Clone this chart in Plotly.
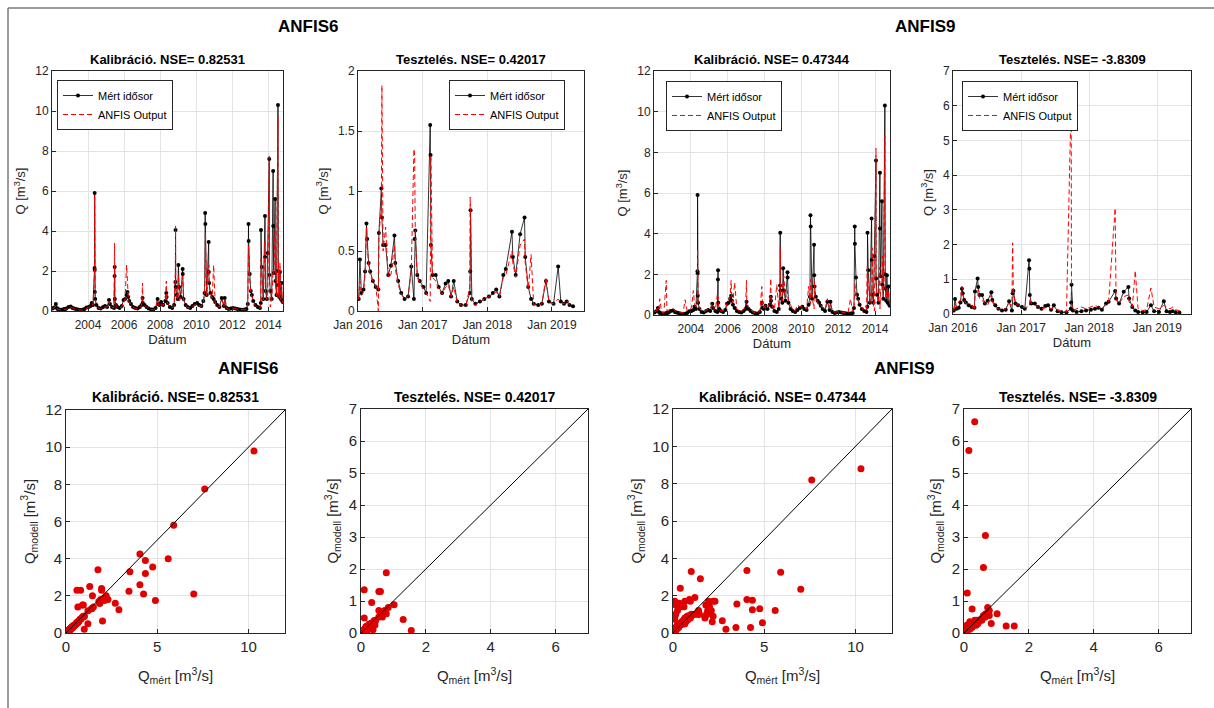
import plotly.graph_objects as go

# ---------------- DATA ----------------
cal_dates = [
    "2002-01-10", "2002-02-15", "2002-03-20", "2002-04-10", "2002-04-25", "2002-06-01", "2002-07-15", "2002-09-01", "2002-09-15", "2002-10-20", "2002-12-01",
    "2003-01-15", "2003-02-20", "2003-03-25", "2003-05-01", "2003-06-15", "2003-08-01", "2003-09-10", "2003-10-20", "2003-12-01",
    "2004-01-15", "2004-02-20", "2004-03-15", "2004-04-10", "2004-05-12", "2004-05-14", "2004-05-16", "2004-05-18", "2004-05-25", "2004-06-20", "2004-08-01", "2004-09-15", "2004-11-01", "2004-12-10",
    "2005-01-20", "2005-03-01", "2005-03-20", "2005-05-01", "2005-06-10", "2005-06-22", "2005-06-24", "2005-06-28", "2005-07-20", "2005-08-20", "2005-10-01", "2005-11-15", "2005-12-20",
    "2006-01-20", "2006-02-20", "2006-03-10", "2006-03-25", "2006-04-15", "2006-05-20", "2006-07-01", "2006-08-15", "2006-10-01", "2006-11-15", "2006-12-20",
    "2007-01-10", "2007-01-15", "2007-02-20", "2007-04-01", "2007-05-15", "2007-07-01", "2007-08-15", "2007-10-01", "2007-11-10", "2007-11-25", "2007-12-20",
    "2008-01-20", "2008-03-01", "2008-04-15", "2008-05-05", "2008-05-10", "2008-06-01", "2008-07-15", "2008-09-01", "2008-10-10", "2008-11-05", "2008-11-08", "2008-11-12", "2008-12-01", "2008-12-20",
    "2009-01-05", "2009-01-20", "2009-02-20", "2009-04-01", "2009-04-03", "2009-04-20", "2009-06-01", "2009-07-15", "2009-09-01", "2009-10-15", "2009-12-01",
    "2010-01-20", "2010-03-01", "2010-04-15", "2010-05-25", "2010-06-20", "2010-07-01", "2010-07-05", "2010-08-01", "2010-09-10", "2010-09-13", "2010-09-20", "2010-10-15", "2010-11-20", "2010-12-20",
    "2011-01-20", "2011-03-01", "2011-04-15", "2011-06-01", "2011-07-15", "2011-08-01", "2011-09-10", "2011-10-20", "2011-12-01",
    "2012-01-15", "2012-03-01", "2012-04-15", "2012-06-01", "2012-07-15", "2012-09-01", "2012-10-15", "2012-11-10", "2012-11-25", "2012-11-28", "2012-12-20",
    "2013-01-10", "2013-02-01", "2013-03-01", "2013-04-15", "2013-06-01", "2013-07-15", "2013-08-01", "2013-08-05", "2013-08-20", "2013-09-20", "2013-10-25", "2013-10-28", "2013-11-05", "2013-12-01", "2013-12-20",
    "2014-01-20", "2014-01-22", "2014-02-10", "2014-03-10", "2014-04-08", "2014-04-10", "2014-04-20", "2014-05-18", "2014-05-25", "2014-06-15", "2014-07-15", "2014-07-17", "2014-07-25", "2014-08-10", "2014-08-25", "2014-09-10", "2014-09-25", "2014-10-10", "2014-10-20",
]
cal_obs = [
    0.12, 0.18, 0.35, 0.15, 0.10, 0.08, 0.06, 0.10, 0.08, 0.12, 0.20,
    0.22, 0.15, 0.12, 0.10, 0.07, 0.05, 0.06, 0.10, 0.18,
    0.20, 0.25, 0.40, 0.30, 2.15, 5.90, 2.05, 0.95, 0.60, 0.30, 0.15, 0.12, 0.20, 0.25,
    0.20, 0.55, 0.35, 0.20, 0.15, 1.75, 2.20, 0.60, 0.30, 0.20, 0.15, 0.25, 0.55,
    0.60, 0.80, 0.95, 0.70, 0.50, 0.35, 0.20, 0.15, 0.12, 0.20, 0.30,
    0.65, 0.40, 0.30, 0.20, 0.12, 0.08, 0.07, 0.15, 0.60, 0.35, 0.30,
    0.45, 0.30, 0.50, 0.90, 0.70, 0.40, 0.20, 0.15, 0.30, 1.45, 4.05, 1.20, 0.80, 0.60,
    2.30, 1.20, 0.70, 2.10, 1.85, 0.60, 0.30, 0.20, 0.15, 0.25, 0.35,
    0.40, 0.30, 0.25, 0.50, 0.90, 4.90, 4.35, 0.80, 3.45, 1.95, 1.40, 0.90, 0.70, 0.60,
    0.45, 0.30, 0.20, 0.65, 0.25, 0.65, 0.15, 0.10, 0.12,
    0.15, 0.12, 0.10, 0.08, 0.06, 0.07, 0.10, 0.35, 4.35, 3.50, 1.85,
    1.00, 0.80, 0.50, 0.30, 0.20, 0.15, 0.40, 4.05, 2.20, 0.60, 4.75, 2.70, 1.00, 0.60, 2.90,
    7.60, 1.80, 1.00, 0.60, 7.00, 4.25, 1.90, 5.60, 1.50, 0.80, 10.30, 2.00, 1.30, 0.70, 1.95, 0.60, 1.40, 0.50, 0.45,
]
cal_anfis6 = [
    0.10, 0.15, 0.28, 0.14, 0.09, 0.07, 0.05, 0.12, 0.07, 0.10, 0.18,
    0.20, 0.14, 0.12, 0.09, 0.06, 0.05, 0.05, 0.09, 0.15,
    0.18, 0.22, 0.35, 0.30, 1.90, 5.80, 1.85, 0.90, 0.55, 0.28, 0.14, 0.10, 0.18, 0.22,
    0.18, 0.50, 0.30, 0.18, 0.14, 3.40, 1.90, 0.55, 0.28, 0.18, 0.14, 0.22, 0.50,
    0.55, 2.30, 1.50, 0.65, 0.45, 0.30, 0.18, 0.14, 0.10, 0.18, 0.28,
    1.40, 0.38, 0.28, 0.18, 0.11, 0.07, 0.06, 0.13, 0.55, 0.33, 0.28,
    0.40, 0.28, 0.45, 1.50, 0.65, 0.38, 0.18, 0.14, 0.28, 2.00, 4.25, 1.20, 0.75, 0.55,
    1.80, 0.50, 0.65, 1.75, 1.60, 0.55, 0.28, 0.18, 0.14, 0.23, 0.32,
    0.38, 0.28, 0.23, 0.45, 0.85, 1.75, 3.90, 0.75, 2.25, 2.30, 1.30, 0.85, 0.65, 2.30,
    0.40, 0.28, 0.18, 0.55, 0.22, 0.60, 0.14, 0.09, 0.11,
    0.14, 0.11, 0.09, 0.07, 0.05, 0.06, 0.09, 0.30, 3.20, 3.30, 1.60,
    0.90, 0.75, 0.45, 0.28, 0.18, 0.14, 0.38, 2.60, 2.00, 0.55, 3.55, 1.60, 0.90, 0.55, 1.25,
    7.75, 1.70, 0.20, 0.55, 2.10, 2.10, 1.80, 4.00, 1.40, 0.75, 9.80, 0.65, 2.50, 0.65, 2.40, 0.55, 1.30, 0.45, 0.40,
]
cal_anfis9 = [
    0.15, 0.20, 0.40, 0.30, 0.80, 0.15, 0.10, 1.70, 0.20, 0.25, 0.30,
    0.30, 0.20, 0.15, 0.12, 0.10, 0.10, 0.75, 0.20, 0.25,
    0.35, 1.20, 0.50, 0.40, 0.60, 3.25, 1.10, 0.80, 0.50, 0.35, 0.20, 0.15, 0.25, 0.30,
    0.30, 0.60, 0.40, 0.25, 1.00, 0.80, 0.90, 0.50, 0.30, 0.20, 0.20, 0.30, 0.60,
    0.70, 0.90, 1.70, 0.80, 0.60, 1.60, 0.30, 0.20, 0.15, 0.25, 0.35,
    1.70, 0.50, 0.35, 0.25, 0.15, 0.10, 0.10, 0.20, 1.40, 0.40, 0.35,
    0.50, 0.35, 0.60, 1.80, 0.80, 0.45, 0.25, 1.50, 0.35, 1.00, 3.35, 1.00, 0.90, 0.70,
    1.70, 1.90, 0.80, 1.20, 1.00, 0.70, 0.50, 0.25, 0.20, 0.50, 0.40,
    0.45, 0.35, 0.30, 1.40, 0.80, 0.55, 1.75, 0.90, 0.30, 1.70, 1.00, 0.80, 0.60, 0.50,
    0.50, 0.35, 0.25, 0.80, 0.30, 0.50, 0.20, 0.15, 0.15,
    0.20, 0.15, 0.12, 0.10, 0.10, 0.80, 0.15, 0.40, 1.25, 1.55, 1.00,
    0.90, 0.70, 0.50, 0.35, 0.25, 0.20, 2.40, 1.80, 1.70, 0.60, 1.30, 0.65, 3.30, 0.50, 0.20,
    8.20, 1.50, 1.00, 0.60, 2.35, 0.30, 1.20, 1.20, 2.90, 0.90, 8.80, 1.40, 1.00, 0.80, 1.30, 0.70, 1.20, 0.60, 0.50,
]

test_dates = [
    "2016-01-05", "2016-01-12", "2016-01-20", "2016-02-01", "2016-02-10", "2016-02-18", "2016-02-22", "2016-03-01", "2016-03-10", "2016-03-25",
    "2016-04-10", "2016-04-25", "2016-04-28", "2016-05-12", "2016-05-15", "2016-05-22", "2016-06-05", "2016-06-20", "2016-07-05", "2016-07-25",
    "2016-07-30", "2016-08-15", "2016-09-01", "2016-09-20", "2016-10-10", "2016-10-28", "2016-11-12", "2016-11-16", "2016-11-20", "2016-12-01", "2016-12-15",
    "2017-01-05", "2017-01-20", "2017-02-12", "2017-02-14", "2017-02-16", "2017-02-25", "2017-03-15", "2017-04-01", "2017-04-20", "2017-05-10",
    "2017-05-25", "2017-06-10", "2017-06-25", "2017-07-15", "2017-08-05", "2017-09-01", "2017-09-24", "2017-09-26", "2017-09-28", "2017-10-05",
    "2017-10-25", "2017-11-20", "2017-12-15",
    "2018-01-10", "2018-02-01", "2018-02-20", "2018-03-10", "2018-04-01", "2018-04-15", "2018-05-20", "2018-05-25", "2018-06-10", "2018-07-05",
    "2018-07-30", "2018-08-03", "2018-08-20", "2018-09-05", "2018-09-20", "2018-10-15", "2018-11-05", "2018-11-28", "2018-12-15",
    "2019-01-10", "2019-02-05", "2019-02-20", "2019-03-10", "2019-03-25", "2019-04-10", "2019-04-30",
]
test_obs = [
    0.10, 0.43, 0.15, 0.18, 0.33, 0.73, 0.60, 0.40, 0.33, 0.25,
    0.20, 0.18, 0.65, 1.02, 0.78, 0.55, 0.55, 0.30, 0.38, 0.63,
    0.40, 0.25, 0.15, 0.10, 0.12, 0.37, 0.10, 0.60, 0.67, 0.30, 0.25,
    0.20, 0.15, 1.55, 1.30, 0.55, 0.30, 0.30, 0.20, 0.15, 0.23,
    0.25, 0.12, 0.25, 0.08, 0.05, 0.05, 0.15, 0.33, 0.84, 0.10,
    0.06, 0.08, 0.10,
    0.12, 0.15, 0.18, 0.12, 0.30, 0.35, 0.66, 0.45, 0.30, 0.64,
    0.78, 0.45, 0.20, 0.10, 0.06, 0.05, 0.06, 0.25, 0.08,
    0.06, 0.37, 0.08, 0.06, 0.08, 0.05, 0.04,
]
test_anfis6 = [
    0.10, 0.25, 0.13, 0.16, 0.30, 0.70, 0.55, 0.38, 0.30, 0.25,
    0.22, 0.00, 0.62, 0.88, 1.88, 0.50, 0.70, 0.28, 0.30, 0.55,
    0.35, 0.22, 0.14, 0.10, 0.12, 0.33, 1.35, 1.30, 0.60, 0.28, 0.23,
    0.18, 0.15, 0.08, 0.42, 1.30, 0.28, 0.25, 0.18, 0.14, 0.20,
    0.22, 0.12, 0.20, 0.07, 0.05, 0.04, 0.20, 0.95, 0.80, 0.08,
    0.05, 0.08, 0.10,
    0.12, 0.14, 0.16, 0.12, 0.28, 0.30, 0.50, 0.40, 0.28, 0.55,
    0.60, 0.40, 0.18, 0.47, 0.05, 0.05, 0.06, 0.28, 0.07,
    0.06, 0.10, 0.07, 0.06, 0.09, 0.05, 0.04,
]
test_anfis9 = [
    0.08, 0.30, 0.20, 0.35, 0.40, 0.80, 0.55, 0.40, 0.30, 0.28,
    0.25, 0.12, 0.50, 0.60, 0.70, 0.45, 0.40, 0.30, 0.25, 0.55,
    0.35, 0.20, 0.15, 0.12, 0.15, 0.30, 0.25, 2.05, 0.60, 0.30, 0.25,
    0.20, 0.18, 0.22, 0.22, 0.45, 0.30, 0.25, 0.20, 0.15, 0.18,
    0.20, 0.15, 0.18, 0.10, 0.08, 0.06, 5.70, 6.60, 0.30, 0.10,
    0.15, 0.20, 0.15,
    0.20, 0.25, 0.20, 0.15, 0.30, 0.35, 3.05, 0.40, 0.30, 0.50,
    0.55, 0.35, 0.20, 1.25, 0.15, 0.10, 0.12, 0.75, 0.20,
    0.15, 0.25, 0.20, 0.15, 0.20, 0.12, 0.10,
]

cal_tick_labels = ["2004", "2006", "2008", "2010", "2012", "2014"]
test_tick_labels = ["Jan 2016", "Jan 2017", "Jan 2018", "Jan 2019"]
diag_cal = [0, 12]
diag_test = [0, 7]

title_cal6 = "Kalibráció. NSE= 0.82531"
title_test6 = "Tesztelés. NSE= 0.42017"
title_cal9 = "Kalibráció. NSE= 0.47344"
title_test9 = "Tesztelés. NSE= -3.8309"

assert len(cal_dates) == len(cal_obs) == len(cal_anfis6) == len(cal_anfis9)
assert len(test_dates) == len(test_obs) == len(test_anfis6) == len(test_anfis9)

# ---------------- LAYOUT HELPERS ----------------
W, H = 1214, 708
FONT = "Liberation Sans, Arial, Helvetica, sans-serif"
TXT = "#262626"


def xdom(x0, x1):
    return [x0 / W, x1 / W]


def ydom(y0, y1):
    return [1 - y1 / H, 1 - y0 / H]


# pixel boxes of the 8 axes (x0, x1, y0, y1)
boxes = [
    (52, 283, 71, 311), (358, 584, 71, 311), (654, 890, 71, 315), (953, 1191, 71, 314),
    (66, 285, 410, 633), (361, 588, 409, 633), (673, 892, 409, 633), (964, 1191, 409, 633),
]

fig = go.Figure()

ts_sets = [
    (cal_dates, cal_obs, cal_anfis6),
    (test_dates, test_obs, test_anfis6),
    (cal_dates, cal_obs, cal_anfis9),
    (test_dates, test_obs, test_anfis9),
]
legend_names = ["legend", "legend2", "legend3", "legend4"]
for i, (d, obs, mod) in enumerate(ts_sets):
    ax = "" if i == 0 else str(i + 1)
    fig.add_trace(go.Scatter(
        x=d, y=obs, mode="lines+markers", name="Mért idősor",
        line=dict(color="black", width=0.8), marker=dict(color="black", size=4),
        xaxis="x" + ax, yaxis="y" + ax, legend=legend_names[i]))
    fig.add_trace(go.Scatter(
        x=d, y=mod, mode="lines", name="ANFIS Output",
        line=dict(color="#ff0000", width=1, dash="5px,3px"),
        xaxis="x" + ax, yaxis="y" + ax, legend=legend_names[i]))

sc_sets = [
    (cal_obs, cal_anfis6, diag_cal),
    (test_obs, test_anfis6, diag_test),
    (cal_obs, cal_anfis9, diag_cal),
    (test_obs, test_anfis9, diag_test),
]
for j, (obs, mod, dg) in enumerate(sc_sets):
    ax = str(j + 5)
    fig.add_trace(go.Scatter(
        x=obs, y=mod, mode="markers", showlegend=False,
        marker=dict(color="#e00000", size=7),
        xaxis="x" + ax, yaxis="y" + ax))
    fig.add_trace(go.Scatter(
        x=dg, y=dg, mode="lines", showlegend=False,
        line=dict(color="black", width=1),
        xaxis="x" + ax, yaxis="y" + ax))

base_axis = dict(
    showline=True, linecolor=TXT, linewidth=1, mirror=True,
    ticks="inside", ticklen=4, tickcolor=TXT,
    showgrid=True, gridcolor="#e3e3e3", gridwidth=1, zeroline=False,
    automargin=False,
)

layout = dict(
    width=W, height=H, margin=dict(l=0, r=0, t=0, b=0, autoexpand=False),
    paper_bgcolor="white", plot_bgcolor="white",
    font=dict(family=FONT, color=TXT, size=12),
)

qy = "Q [m<sup>3</sup>/s]"
qmod = "Q<sub>modell</sub> [m<sup>3</sup>/s]"
qmert = "Q<sub>mért</sub> [m<sup>3</sup>/s]"

for i in range(8):
    k = "" if i == 0 else str(i + 1)
    x0, x1, y0, y1 = boxes[i]
    xa = dict(base_axis, domain=xdom(x0, x1), anchor="y" + k)
    ya = dict(base_axis, domain=ydom(y0, y1), anchor="x" + k)
    if i < 4:
        is_cal = i in (0, 2)
        if is_cal:
            xa.update(type="date", range=["2002-01-01", "2014-10-25"],
                      tickvals=[f"{t}-01-01" for t in cal_tick_labels], ticktext=cal_tick_labels)
        else:
            xa.update(type="date", range=["2016-01-01", "2019-07-01"],
                      tickvals=[f"{t.split()[1]}-01-01" for t in test_tick_labels], ticktext=test_tick_labels)
        xa["tickfont"] = dict(family=FONT, color=TXT, size=12)
        xa["ticklabelstandoff"] = 3
        xa["title"] = dict(text="Dátum", font=dict(size=13, family=FONT, color=TXT), standoff=2)
        top = [12, 2, 12, 7][i]
        dt = [2, 0.5, 2, 1][i]
        ya.update(range=[0, top], dtick=dt, tick0=0)
        ya["tickfont"] = dict(family=FONT, color=TXT, size=12)
        ya["title"] = dict(text=qy, font=dict(size=13, family=FONT, color=TXT), standoff=6)
    else:
        is_cal = i in (4, 6)
        top = 12 if is_cal else 7
        xa.update(range=[0, top], dtick=5 if is_cal else 2, tick0=0)
        ya.update(range=[0, top], dtick=2 if is_cal else 1, tick0=0)
        xa["tickfont"] = dict(family=FONT, color=TXT, size=15)
        ya["tickfont"] = dict(family=FONT, color=TXT, size=15)
        xa["title"] = dict(text=qmert, font=dict(size=15, family=FONT, color=TXT), standoff=16)
        ya["title"] = dict(text=qmod, font=dict(size=15, family=FONT, color=TXT), standoff=6)
    layout["xaxis" + k] = xa
    layout["yaxis" + k] = ya

# legends (pixel top-left positions)
leg_pos = [(57, 80), (449, 80), (666, 81), (962, 81)]
for n, (lx, ly) in zip(legend_names, leg_pos):
    layout[n] = dict(
        x=lx / W, y=1 - ly / H, xanchor="left", yanchor="top",
        bgcolor="white", bordercolor=TXT, borderwidth=1,
        font=dict(family=FONT, size=11, color="black"),
        itemwidth=30, tracegroupgap=0,
    )

ann = []


def add_text(text, px, py, size, bold=True):
    ann.append(dict(
        text=f"<b>{text}</b>" if bold else text, x=px / W, y=1 - py / H,
        xref="paper", yref="paper", showarrow=False, xanchor="center", yanchor="middle",
        font=dict(family=FONT, size=size, color="black")))


add_text("ANFIS6", 308, 26, 17)
add_text("ANFIS9", 925, 26, 17)
add_text("ANFIS6", 248, 368, 17)
add_text("ANFIS9", 904, 368, 17)
titles = [title_cal6, title_test6, title_cal9, title_test9] * 2
for i, t in enumerate(titles):
    x0, x1, y0, y1 = boxes[i]
    add_text(t, (x0 + x1) / 2, 59 if i < 4 else 397, 13 if i < 4 else 14)
layout["annotations"] = ann

layout["shapes"] = [
    dict(type="line", xref="paper", yref="paper", x0=8 / W, x1=1, y0=1 - 8 / H, y1=1 - 8 / H,
         line=dict(color="#7a7a7a", width=1.5)),
    dict(type="line", xref="paper", yref="paper", x0=8 / W, x1=8 / W, y0=0, y1=1 - 8 / H,
         line=dict(color="#7a7a7a", width=1.5)),
]

fig.update_layout(layout)
fig.write_html("out.html", config={"displayModeBar": False},
               post_script="document.body.style.margin='0';document.body.style.overflow='hidden';")
